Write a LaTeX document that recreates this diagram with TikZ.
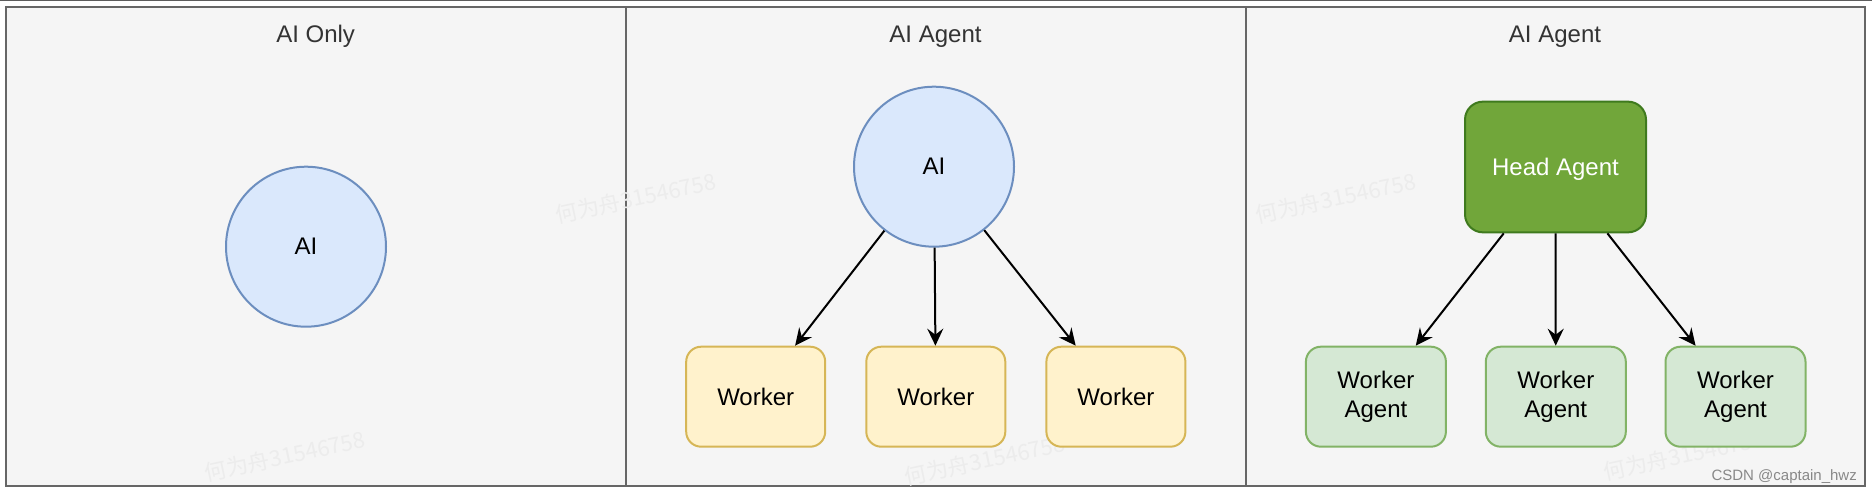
\documentclass[tikz,border=0pt]{standalone}
\usepackage{fontspec}
\setmainfont{Liberation Sans}
\newfontfamily\cjkfont{Noto Sans CJK SC}
\usetikzlibrary{arrows.meta}
\definecolor{panelfill}{HTML}{F5F5F5}
\definecolor{panelline}{HTML}{666666}
\definecolor{titlecol}{HTML}{333333}
\definecolor{aifill}{HTML}{DAE8FC}
\definecolor{ailine}{HTML}{6C8EBF}
\definecolor{wkfill}{HTML}{FFF2CC}
\definecolor{wkline}{HTML}{D6B656}
\definecolor{wafill}{HTML}{D5E8D4}
\definecolor{waline}{HTML}{82B366}
\definecolor{headfill}{HTML}{71A63A}
\definecolor{headline}{HTML}{3F7A1E}
\definecolor{wmcol}{HTML}{ECECEC}
\definecolor{csdncol}{HTML}{888888}
\tikzset{
  panel/.style={draw=panelline, fill=panelfill, line width=2pt},
  title/.style={font=\fontsize{24}{28}\selectfont, text=titlecol, anchor=base},
  aicircle/.style={circle, draw=ailine, fill=aifill, line width=2pt, minimum size=160pt, inner sep=0pt, font=\fontsize{24}{28}\selectfont},
  worker/.style={rectangle, rounded corners=15pt, draw=wkline, fill=wkfill, line width=2pt, minimum width=139pt, minimum height=100pt, inner sep=0pt, font=\fontsize{24}{28}\selectfont},
  wagent/.style={rectangle, rounded corners=15pt, draw=waline, fill=wafill, line width=2pt, minimum width=140pt, minimum height=100pt, inner sep=0pt, align=center, font=\fontsize{24}{28.8}\selectfont},
  head/.style={rectangle, rounded corners=18pt, draw=headline, fill=headfill, line width=2pt, minimum width=181pt, minimum height=130.7pt, inner sep=0pt, text=white, font=\fontsize{24}{28}\selectfont},
  arr/.style={line width=2pt, -{Stealth[length=17pt, width=16pt, inset=6pt]}},
  wmark/.style={text=wmcol, rotate=12, font=\cjkfont\fontsize{22}{26}\selectfont},
}
\begin{document}
\begin{tikzpicture}[x=1pt, y=-1pt]
\useasboundingbox (0,0) rectangle (1872,492);
\fill[white] (0,0) rectangle (1872,492);
\draw[panelline!90!black, line width=1.2pt] (0,0.6) -- (1872,0.6);
% panels
\draw[panel] (5.7,6.7) rectangle (625.6,486);
\draw[panel] (625.6,6.7) rectangle (1245.5,486);
\draw[panel] (1245.5,6.7) rectangle (1865,486);
% watermarks
\node[wmark] (wm1) at (285,456) {何为舟31546758};
\node[wmark] (wm2) at (636,198) {何为舟31546758};
\node[wmark] (wm3) at (985,460) {何为舟31546758};
\node[wmark] (wm4) at (1336,198) {何为舟31546758};
\node[wmark] (wm5) at (1684,455) {何为舟31546758};
% titles
\node[title] (t1) at (315.6,42.3) {AI Only};
\node[title] (t2) at (935.5,42.3) {AI Agent};
\node[title] (t3) at (1555,42.3) {AI Agent};
% panel 1
\node[aicircle] (ai1) at (306,246.7) {AI};
% panel 2
\node[aicircle] (ai2) at (934,166.7) {AI};
\node[worker] (w1) at (755.7,396.7) {Worker};
\node[worker] (w2) at (935.8,396.7) {Worker};
\node[worker] (w3) at (1115.9,396.7) {Worker};
\draw[arr] (ai2) -- (w1);
\draw[arr] (ai2) -- (w2);
\draw[arr] (ai2) -- (w3);
% panel 3
\node[head, text depth=0pt] (hd) at (1555.5,167) {Head Agent};
\node[wagent] (a1) at (1375.9,396.7) {Worker\\Agent};
\node[wagent] (a2) at (1555.8,396.7) {Worker\\Agent};
\node[wagent] (a3) at (1735.5,396.7) {Worker\\Agent};
\draw[arr] (hd) -- (a1);
\draw[arr] (hd) -- (a2);
\draw[arr] (hd) -- (a3);
% credit
\node[anchor=base east, text=csdncol, font=\fontsize{15}{18}\selectfont, inner sep=0pt] (csdn) at (1857,480) {CSDN @captain\_hwz};
\end{tikzpicture}
\end{document}
